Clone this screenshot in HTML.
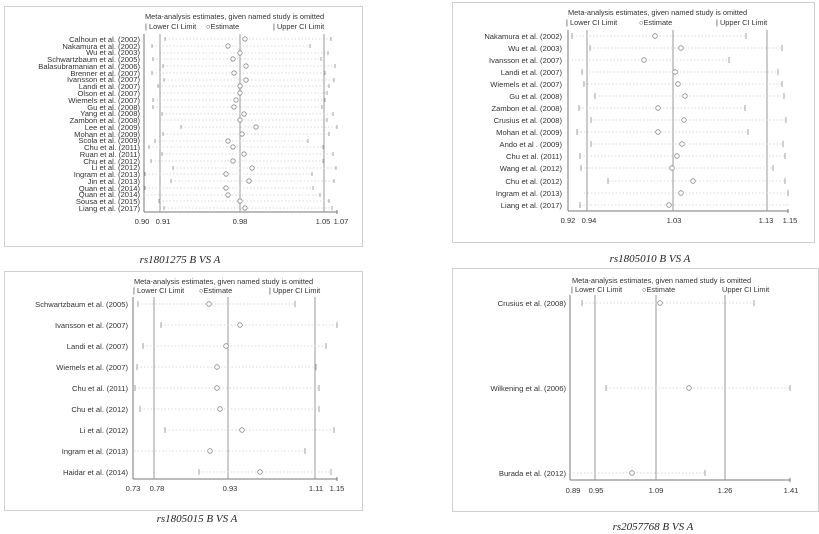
<!DOCTYPE html>
<html><head><meta charset="utf-8"><style>
html,body{margin:0;padding:0;background:#fff;}
svg{display:block;font-family:"Liberation Sans",Arial,sans-serif;}
.f{fill:none;stroke:#cfcfcf;stroke-width:1}
.ax{stroke:#777;stroke-width:1}
.vl{stroke:#999;stroke-width:1}
.ci{stroke:#ccc;stroke-width:0.8;stroke-dasharray:1.5 2}
.tk{stroke:#999;stroke-width:0.9}
.e{fill:#fff;stroke:#888;stroke-width:0.8}
.lb{font-size:7.6px;fill:#333;text-anchor:end}
.lb2{font-size:7.6px;fill:#333;text-anchor:end}
.tl{font-size:7.4px;fill:#333}
.tv{font-size:7.6px;fill:#333;text-anchor:middle}
.cap{font-family:"Liberation Serif",serif;font-style:italic;font-size:11px;fill:#222;text-anchor:middle}
</style></head><body>
<svg width="819" height="534" viewBox="0 0 819 534" xmlns="http://www.w3.org/2000/svg">
<!-- Panel 1 -->
<rect class="f" x="4.5" y="6.5" width="358" height="240"/>
<text class="tl" x="145" y="19">Meta-analysis estimates, given named study is omitted</text>
<text class="tl" x="145" y="29">| Lower CI Limit</text>
<text class="tl" x="206" y="29">○Estimate</text>
<text class="tl" x="273" y="29">| Upper CI Limit</text>
<line class="ax" x1="144" y1="34" x2="144" y2="212"/>
<line class="ax" x1="144" y1="212" x2="337" y2="212"/>
<line class="vl" x1="160" y1="34" x2="160" y2="212"/>
<line class="vl" x1="240" y1="34" x2="240" y2="212"/>
<line class="vl" x1="324" y1="34" x2="324" y2="212"/>
<line class="ax" x1="337" y1="210" x2="337" y2="214"/>
<text class="tv" x="142" y="224">0.90</text><text class="tv" x="163" y="224">0.91</text><text class="tv" x="240" y="224">0.98</text><text class="tv" x="323" y="224">1.05</text><text class="tv" x="341" y="224">1.07</text>
<g id="p1">
<text class="lb" x="140" y="42">Calhoun et al. (2002)</text><line class="ci" x1="165" y1="39" x2="331" y2="39"/><line class="tk" x1="165" y1="37" x2="165" y2="41"/><line class="tk" x1="331" y1="37" x2="331" y2="41"/><circle class="e" cx="245" cy="39" r="2.2"/>
<text class="lb" x="140" y="49">Nakamura et al. (2002)</text><line class="ci" x1="152" y1="46" x2="310" y2="46"/><line class="tk" x1="152" y1="44" x2="152" y2="48"/><line class="tk" x1="310" y1="44" x2="310" y2="48"/><circle class="e" cx="228" cy="46" r="2.2"/>
<text class="lb" x="140" y="55">Wu et al.  (2003)</text><line class="ci" x1="160" y1="53" x2="328" y2="53"/><line class="tk" x1="160" y1="51" x2="160" y2="55"/><line class="tk" x1="328" y1="51" x2="328" y2="55"/><circle class="e" cx="240" cy="53" r="2.2"/>
<text class="lb" x="140" y="62">Schwartzbaum et al. (2005)</text><line class="ci" x1="153" y1="59" x2="321" y2="59"/><line class="tk" x1="153" y1="57" x2="153" y2="61"/><line class="tk" x1="321" y1="57" x2="321" y2="61"/><circle class="e" cx="233" cy="59" r="2.2"/>
<text class="lb" x="140" y="69">Balasubramanian et al. (2006)</text><line class="ci" x1="163" y1="66" x2="335" y2="66"/><line class="tk" x1="163" y1="64" x2="163" y2="68"/><line class="tk" x1="335" y1="64" x2="335" y2="68"/><circle class="e" cx="246" cy="66" r="2.2"/>
<text class="lb" x="140" y="76">Brenner et al.  (2007)</text><line class="ci" x1="152" y1="73" x2="325" y2="73"/><line class="tk" x1="152" y1="71" x2="152" y2="75"/><line class="tk" x1="325" y1="71" x2="325" y2="75"/><circle class="e" cx="234" cy="73" r="2.2"/>
<text class="lb" x="140" y="82">Ivansson et al. (2007)</text><line class="ci" x1="164" y1="80" x2="334" y2="80"/><line class="tk" x1="164" y1="78" x2="164" y2="82"/><line class="tk" x1="334" y1="78" x2="334" y2="82"/><circle class="e" cx="246" cy="80" r="2.2"/>
<text class="lb" x="140" y="89">Landi et al. (2007)</text><line class="ci" x1="158" y1="86" x2="329" y2="86"/><line class="tk" x1="158" y1="84" x2="158" y2="88"/><line class="tk" x1="329" y1="84" x2="329" y2="88"/><circle class="e" cx="240" cy="86" r="2.2"/>
<text class="lb" x="140" y="96">Olson et al. (2007)</text><line class="ci" x1="160" y1="93" x2="327" y2="93"/><line class="tk" x1="160" y1="91" x2="160" y2="95"/><line class="tk" x1="327" y1="91" x2="327" y2="95"/><circle class="e" cx="240" cy="93" r="2.2"/>
<text class="lb" x="140" y="103">Wiemels et al. (2007)</text><line class="ci" x1="153" y1="100" x2="325" y2="100"/><line class="tk" x1="153" y1="98" x2="153" y2="102"/><line class="tk" x1="325" y1="98" x2="325" y2="102"/><circle class="e" cx="236" cy="100" r="2.2"/>
<text class="lb" x="140" y="110">Gu et al. (2008)</text><line class="ci" x1="153" y1="107" x2="322" y2="107"/><line class="tk" x1="153" y1="105" x2="153" y2="109"/><line class="tk" x1="322" y1="105" x2="322" y2="109"/><circle class="e" cx="234" cy="107" r="2.2"/>
<text class="lb" x="140" y="116">Yang et al. (2008)</text><line class="ci" x1="162" y1="114" x2="333" y2="114"/><line class="tk" x1="162" y1="112" x2="162" y2="116"/><line class="tk" x1="333" y1="112" x2="333" y2="116"/><circle class="e" cx="244" cy="114" r="2.2"/>
<text class="lb" x="140" y="123">Zambon  et al. (2008)</text><line class="ci" x1="160" y1="120" x2="327" y2="120"/><line class="tk" x1="160" y1="118" x2="160" y2="122"/><line class="tk" x1="327" y1="118" x2="327" y2="122"/><circle class="e" cx="240" cy="120" r="2.2"/>
<text class="lb" x="140" y="130">Lee  et al. (2009)</text><line class="ci" x1="181" y1="127" x2="337" y2="127"/><line class="tk" x1="181" y1="125" x2="181" y2="129"/><line class="tk" x1="337" y1="125" x2="337" y2="129"/><circle class="e" cx="256" cy="127" r="2.2"/>
<text class="lb" x="140" y="137">Mohan  et al. (2009)</text><line class="ci" x1="163" y1="134" x2="329" y2="134"/><line class="tk" x1="163" y1="132" x2="163" y2="136"/><line class="tk" x1="329" y1="132" x2="329" y2="136"/><circle class="e" cx="242" cy="134" r="2.2"/>
<text class="lb" x="140" y="143">Scola  et al. (2009)</text><line class="ci" x1="155" y1="141" x2="308" y2="141"/><line class="tk" x1="155" y1="139" x2="155" y2="143"/><line class="tk" x1="308" y1="139" x2="308" y2="143"/><circle class="e" cx="228" cy="141" r="2.2"/>
<text class="lb" x="140" y="150">Chu et al. (2011)</text><line class="ci" x1="149" y1="147" x2="323" y2="147"/><line class="tk" x1="149" y1="145" x2="149" y2="149"/><line class="tk" x1="323" y1="145" x2="323" y2="149"/><circle class="e" cx="233" cy="147" r="2.2"/>
<text class="lb" x="140" y="157">Ruan et al. (2011)</text><line class="ci" x1="162" y1="154" x2="333" y2="154"/><line class="tk" x1="162" y1="152" x2="162" y2="156"/><line class="tk" x1="333" y1="152" x2="333" y2="156"/><circle class="e" cx="244" cy="154" r="2.2"/>
<text class="lb" x="140" y="164">Chu et al. (2012)</text><line class="ci" x1="151" y1="161" x2="323" y2="161"/><line class="tk" x1="151" y1="159" x2="151" y2="163"/><line class="tk" x1="323" y1="159" x2="323" y2="163"/><circle class="e" cx="233" cy="161" r="2.2"/>
<text class="lb" x="140" y="170">Li  et al. (2012)</text><line class="ci" x1="173" y1="168" x2="336" y2="168"/><line class="tk" x1="173" y1="166" x2="173" y2="170"/><line class="tk" x1="336" y1="166" x2="336" y2="170"/><circle class="e" cx="252" cy="168" r="2.2"/>
<text class="lb" x="140" y="177">Ingram et al. (2013)</text><line class="ci" x1="145" y1="174" x2="312" y2="174"/><line class="tk" x1="145" y1="172" x2="145" y2="176"/><line class="tk" x1="312" y1="172" x2="312" y2="176"/><circle class="e" cx="226" cy="174" r="2.2"/>
<text class="lb" x="140" y="184">Jin et al. (2013)</text><line class="ci" x1="171" y1="181" x2="334" y2="181"/><line class="tk" x1="171" y1="179" x2="171" y2="183"/><line class="tk" x1="334" y1="179" x2="334" y2="183"/><circle class="e" cx="249" cy="181" r="2.2"/>
<text class="lb" x="140" y="191">Quan et al. (2014)</text><line class="ci" x1="145" y1="188" x2="313" y2="188"/><line class="tk" x1="145" y1="186" x2="145" y2="190"/><line class="tk" x1="313" y1="186" x2="313" y2="190"/><circle class="e" cx="226" cy="188" r="2.2"/>
<text class="lb" x="140" y="197">Quan et al. (2014)</text><line class="ci" x1="144" y1="195" x2="320" y2="195"/><line class="tk" x1="320" y1="193" x2="320" y2="197"/><circle class="e" cx="228" cy="195" r="2.2"/>
<text class="lb" x="140" y="204">Sousa et al. (2015)</text><line class="ci" x1="159" y1="201" x2="329" y2="201"/><line class="tk" x1="159" y1="199" x2="159" y2="203"/><line class="tk" x1="329" y1="199" x2="329" y2="203"/><circle class="e" cx="240" cy="201" r="2.2"/>
<text class="lb" x="140" y="211">Liang  et al. (2017)</text><line class="ci" x1="164" y1="208" x2="332" y2="208"/><line class="tk" x1="164" y1="206" x2="164" y2="210"/><line class="tk" x1="332" y1="206" x2="332" y2="210"/><circle class="e" cx="245" cy="208" r="2.2"/>
</g>
<text class="cap" x="180" y="263">rs1801275 B VS A</text>

<!-- Panel 2 -->
<rect class="f" x="452.5" y="2.5" width="362" height="240"/>
<text class="tl" x="568" y="15">Meta-analysis estimates, given named study is omitted</text>
<text class="tl" x="566" y="25">| Lower CI Limit</text>
<text class="tl" x="639" y="25">○Estimate</text>
<text class="tl" x="716" y="25">| Upper CI Limit</text>
<line class="ax" x1="568" y1="30" x2="568" y2="211"/>
<line class="ax" x1="568" y1="211" x2="788" y2="211"/>
<line class="vl" x1="587" y1="30" x2="587" y2="211"/>
<line class="vl" x1="673" y1="30" x2="673" y2="211"/>
<line class="vl" x1="767" y1="30" x2="767" y2="211"/>
<line class="ax" x1="788" y1="209" x2="788" y2="213"/>
<text class="tv" x="568" y="223">0.92</text><text class="tv" x="589" y="223">0.94</text><text class="tv" x="674" y="223">1.03</text><text class="tv" x="766" y="223">1.13</text><text class="tv" x="790" y="223">1.15</text>
<text class="lb2" x="562" y="39">Nakamura et al. (2002)</text><line class="ci" x1="572" y1="36" x2="746" y2="36"/><line class="tk" x1="572" y1="33" x2="572" y2="39"/><line class="tk" x1="746" y1="33" x2="746" y2="39"/><circle class="e" cx="655" cy="36" r="2.3"/>
<text class="lb2" x="562" y="51">Wu et al.  (2003)</text><line class="ci" x1="590" y1="48" x2="782" y2="48"/><line class="tk" x1="590" y1="45" x2="590" y2="51"/><line class="tk" x1="782" y1="45" x2="782" y2="51"/><circle class="e" cx="681" cy="48" r="2.3"/>
<text class="lb2" x="562" y="63">Ivansson et al. (2007)</text><line class="ci" x1="568" y1="60" x2="729" y2="60"/><line class="tk" x1="729" y1="57" x2="729" y2="63"/><circle class="e" cx="644" cy="60" r="2.3"/>
<text class="lb2" x="562" y="75">Landi et al. (2007)</text><line class="ci" x1="582" y1="72" x2="778" y2="72"/><line class="tk" x1="582" y1="69" x2="582" y2="75"/><line class="tk" x1="778" y1="69" x2="778" y2="75"/><circle class="e" cx="675" cy="72" r="2.3"/>
<text class="lb2" x="562" y="87">Wiemels et al. (2007)</text><line class="ci" x1="584" y1="84" x2="782" y2="84"/><line class="tk" x1="584" y1="81" x2="584" y2="87"/><line class="tk" x1="782" y1="81" x2="782" y2="87"/><circle class="e" cx="678" cy="84" r="2.3"/>
<text class="lb2" x="562" y="99">Gu et al. (2008)</text><line class="ci" x1="595" y1="96" x2="784" y2="96"/><line class="tk" x1="595" y1="93" x2="595" y2="99"/><line class="tk" x1="784" y1="93" x2="784" y2="99"/><circle class="e" cx="685" cy="96" r="2.3"/>
<text class="lb2" x="562" y="111">Zambon  et al. (2008)</text><line class="ci" x1="579" y1="108" x2="745" y2="108"/><line class="tk" x1="579" y1="105" x2="579" y2="111"/><line class="tk" x1="745" y1="105" x2="745" y2="111"/><circle class="e" cx="658" cy="108" r="2.3"/>
<text class="lb2" x="562" y="123">Crusius  et al. (2008)</text><line class="ci" x1="591" y1="120" x2="786" y2="120"/><line class="tk" x1="591" y1="117" x2="591" y2="123"/><line class="tk" x1="786" y1="117" x2="786" y2="123"/><circle class="e" cx="684" cy="120" r="2.3"/>
<text class="lb2" x="562" y="135">Mohan  et al. (2009)</text><line class="ci" x1="577" y1="132" x2="748" y2="132"/><line class="tk" x1="577" y1="129" x2="577" y2="135"/><line class="tk" x1="748" y1="129" x2="748" y2="135"/><circle class="e" cx="658" cy="132" r="2.3"/>
<text class="lb2" x="562" y="147">Ando et al . (2009)</text><line class="ci" x1="591" y1="144" x2="783" y2="144"/><line class="tk" x1="591" y1="141" x2="591" y2="147"/><line class="tk" x1="783" y1="141" x2="783" y2="147"/><circle class="e" cx="682" cy="144" r="2.3"/>
<text class="lb2" x="562" y="159">Chu et al. (2011)</text><line class="ci" x1="580" y1="156" x2="785" y2="156"/><line class="tk" x1="580" y1="153" x2="580" y2="159"/><line class="tk" x1="785" y1="153" x2="785" y2="159"/><circle class="e" cx="677" cy="156" r="2.3"/>
<text class="lb2" x="562" y="171">Wang et al. (2012)</text><line class="ci" x1="581" y1="168" x2="773" y2="168"/><line class="tk" x1="581" y1="165" x2="581" y2="171"/><line class="tk" x1="773" y1="165" x2="773" y2="171"/><circle class="e" cx="672" cy="168" r="2.3"/>
<text class="lb2" x="562" y="184">Chu et al. (2012)</text><line class="ci" x1="608" y1="181" x2="785" y2="181"/><line class="tk" x1="608" y1="178" x2="608" y2="184"/><line class="tk" x1="785" y1="178" x2="785" y2="184"/><circle class="e" cx="693" cy="181" r="2.3"/>
<text class="lb2" x="562" y="196">Ingram et al. (2013)</text><line class="ci" x1="584" y1="193" x2="788" y2="193"/><line class="tk" x1="788" y1="190" x2="788" y2="196"/><circle class="e" cx="681" cy="193" r="2.3"/>
<text class="lb2" x="562" y="208">Liang  et al. (2017)</text><line class="ci" x1="580" y1="205" x2="788" y2="205"/><line class="tk" x1="580" y1="202" x2="580" y2="208"/><circle class="e" cx="669" cy="205" r="2.3"/>
<text class="cap" x="650" y="262">rs1805010 B VS A</text>

<!-- Panel 3 -->
<rect class="f" x="4.5" y="271.5" width="358" height="239"/>
<text class="tl" x="134" y="284">Meta-analysis estimates, given named study is omitted</text>
<text class="tl" x="133" y="293">| Lower CI Limit</text>
<text class="tl" x="199" y="293">○Estimate</text>
<text class="tl" x="269" y="293">| Upper CI Limit</text>
<line class="ax" x1="133" y1="297" x2="133" y2="479"/>
<line class="ax" x1="133" y1="479" x2="337" y2="479"/>
<line class="vl" x1="154" y1="297" x2="154" y2="479"/>
<line class="vl" x1="228" y1="297" x2="228" y2="479"/>
<line class="vl" x1="315" y1="297" x2="315" y2="479"/>
<line class="ax" x1="337" y1="477" x2="337" y2="481"/>
<text class="tv" x="133" y="491">0.73</text><text class="tv" x="157" y="491">0.78</text><text class="tv" x="230" y="491">0.93</text><text class="tv" x="316" y="491">1.11</text><text class="tv" x="337" y="491">1.15</text>
<text class="lb2" x="128" y="307">Schwartzbaum et al. (2005)</text><line class="ci" x1="138" y1="304" x2="295" y2="304"/><line class="tk" x1="138" y1="301" x2="138" y2="307"/><line class="tk" x1="295" y1="301" x2="295" y2="307"/><circle class="e" cx="209" cy="304" r="2.3"/>
<text class="lb2" x="128" y="328">Ivansson et al. (2007)</text><line class="ci" x1="161" y1="325" x2="337" y2="325"/><line class="tk" x1="161" y1="322" x2="161" y2="328"/><line class="tk" x1="337" y1="322" x2="337" y2="328"/><circle class="e" cx="240" cy="325" r="2.3"/>
<text class="lb2" x="128" y="349">Landi et al. (2007)</text><line class="ci" x1="143" y1="346" x2="326" y2="346"/><line class="tk" x1="143" y1="343" x2="143" y2="349"/><line class="tk" x1="326" y1="343" x2="326" y2="349"/><circle class="e" cx="226" cy="346" r="2.3"/>
<text class="lb2" x="128" y="370">Wiemels et al. (2007)</text><line class="ci" x1="137" y1="367" x2="316" y2="367"/><line class="tk" x1="137" y1="364" x2="137" y2="370"/><line class="tk" x1="316" y1="364" x2="316" y2="370"/><circle class="e" cx="217" cy="367" r="2.3"/>
<text class="lb2" x="128" y="391">Chu et al. (2011)</text><line class="ci" x1="135" y1="388" x2="319" y2="388"/><line class="tk" x1="135" y1="385" x2="135" y2="391"/><line class="tk" x1="319" y1="385" x2="319" y2="391"/><circle class="e" cx="217" cy="388" r="2.3"/>
<text class="lb2" x="128" y="412">Chu et al. (2012)</text><line class="ci" x1="140" y1="409" x2="319" y2="409"/><line class="tk" x1="140" y1="406" x2="140" y2="412"/><line class="tk" x1="319" y1="406" x2="319" y2="412"/><circle class="e" cx="220" cy="409" r="2.3"/>
<text class="lb2" x="128" y="433">Li et al.  (2012)</text><line class="ci" x1="165" y1="430" x2="334" y2="430"/><line class="tk" x1="165" y1="427" x2="165" y2="433"/><line class="tk" x1="334" y1="427" x2="334" y2="433"/><circle class="e" cx="242" cy="430" r="2.3"/>
<text class="lb2" x="128" y="454">Ingram et al. (2013)</text><line class="ci" x1="134" y1="451" x2="305" y2="451"/><line class="tk" x1="305" y1="448" x2="305" y2="454"/><circle class="e" cx="210" cy="451" r="2.3"/>
<text class="lb2" x="128" y="475">Haidar et al. (2014)</text><line class="ci" x1="199" y1="472" x2="331" y2="472"/><line class="tk" x1="199" y1="469" x2="199" y2="475"/><line class="tk" x1="331" y1="469" x2="331" y2="475"/><circle class="e" cx="260" cy="472" r="2.3"/>
<text class="cap" x="197" y="522">rs1805015 B VS A</text>

<!-- Panel 4 -->
<rect class="f" x="452.5" y="268.5" width="366" height="243"/>
<text class="tl" x="572" y="283">Meta-analysis estimates, given named study is omitted</text>
<text class="tl" x="571" y="292">| Lower CI Limit</text>
<text class="tl" x="642" y="292">○Estimate</text>
<text class="tl" x="722" y="292">Upper CI Limit</text>
<line class="ax" x1="570" y1="295" x2="570" y2="480"/>
<line class="ax" x1="570" y1="480" x2="790" y2="480"/>
<line class="vl" x1="595" y1="295" x2="595" y2="480"/>
<line class="vl" x1="656" y1="295" x2="656" y2="480"/>
<line class="vl" x1="725" y1="295" x2="725" y2="480"/>
<line class="ax" x1="790" y1="478" x2="790" y2="482"/>
<text class="tv" x="573" y="493">0.89</text><text class="tv" x="596" y="493">0.95</text><text class="tv" x="656" y="493">1.09</text><text class="tv" x="725" y="493">1.26</text><text class="tv" x="791" y="493">1.41</text>
<text class="lb2" x="566" y="306">Crusius  et al. (2008)</text><line class="ci" x1="582" y1="303" x2="754" y2="303"/><line class="tk" x1="582" y1="300" x2="582" y2="306"/><line class="tk" x1="754" y1="300" x2="754" y2="306"/><circle class="e" cx="660" cy="303" r="2.3"/>
<text class="lb2" x="566" y="391">Wilkening et al. (2006)</text><line class="ci" x1="606" y1="388" x2="790" y2="388"/><line class="tk" x1="606" y1="385" x2="606" y2="391"/><line class="tk" x1="790" y1="385" x2="790" y2="391"/><circle class="e" cx="689" cy="388" r="2.3"/>
<text class="lb2" x="566" y="476">Burada et al. (2012)</text><line class="ci" x1="570" y1="473" x2="705" y2="473"/><line class="tk" x1="705" y1="470" x2="705" y2="476"/><circle class="e" cx="632" cy="473" r="2.3"/>
<text class="cap" x="653" y="530">rs2057768 B VS A</text>
</svg>
</body></html>
